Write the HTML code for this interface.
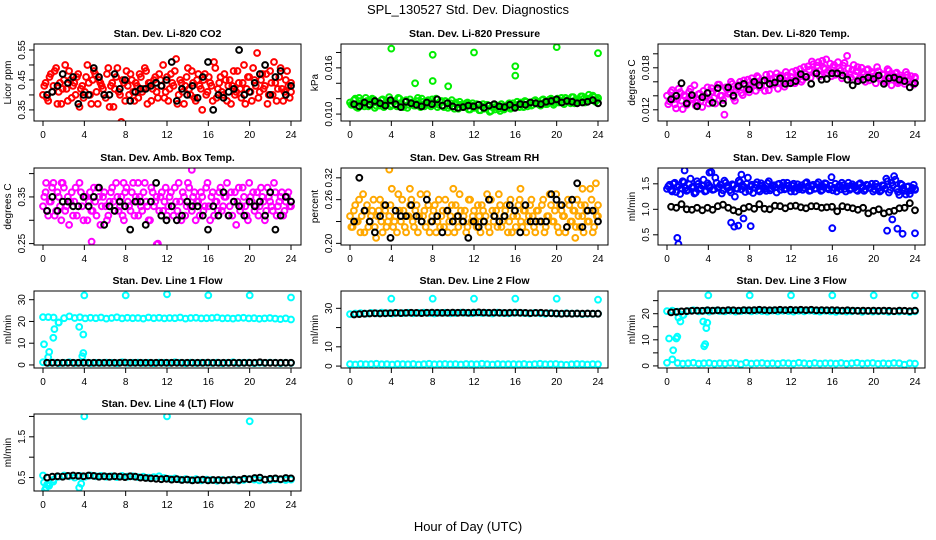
<!DOCTYPE html>
<html><head><meta charset="utf-8"><style>
body{margin:0;background:#fff;}
svg{display:block;font-family:"Liberation Sans",Arial,sans-serif;}
</style></head><body>
<svg id="chart" width="936" height="540">
<rect width="936" height="540" fill="#fff"/>
<text x="468" y="14" text-anchor="middle" font-size="13">SPL_130527  Std. Dev. Diagnostics</text>
<text x="468" y="531" text-anchor="middle" font-size="13">Hour of Day (UTC)</text>
</svg>
<script>
const hourTicks=[0,4,8,12,16,20,24];
const co2Main=[0.40,0.44,0.38,0.47,0.43,0.49,0.41,0.37,0.45,0.42,0.48,0.39,0.44,0.46,0.36,0.43,0.41,0.50,0.40,0.45,0.47,0.37,0.44,0.42,0.39,0.49,0.43,0.36,0.46,0.41,0.31,0.44,0.48,0.40,0.45,0.38,0.43,0.47,0.41,0.49,0.37,0.44,0.42,0.46,0.39,0.45,0.50,0.41,0.38,0.47,0.43,0.52,0.40,0.44,0.37,0.46,0.42,0.48,0.39,0.45,0.43,0.35,0.47,0.41,0.44,0.38,0.49,0.42,0.46,0.40,0.45,0.43,0.37,0.48,0.41,0.44,0.39,0.50,0.42,0.46,0.38,0.45,0.54,0.41,0.47,0.43,0.37,0.48,0.40,0.44,0.42,0.49,0.38,0.45,0.43,0.41];
const co2Main2=[0.43,0.39,0.46,0.41,0.48,0.37,0.44,0.42,0.50,0.38,0.45,0.43,0.40,0.47,0.42,0.39,0.46,0.44,0.37,0.48,0.41,0.45,0.43,0.40,0.47,0.36,0.44,0.42,0.49,0.40,0.45,0.38,0.43,0.47,0.41,0.44,0.39,0.46,0.42,0.48,0.44,0.38,0.45,0.41,0.47,0.43,0.39,0.46,0.42,0.44,0.48,0.37,0.45,0.41,0.43,0.49,0.40,0.44,0.38,0.47,0.42,0.45,0.40,0.46,0.43,0.51,0.39,0.44,0.41,0.47,0.38,0.45,0.43,0.40,0.48,0.42,0.44,0.37,0.46,0.41,0.49,0.43,0.39,0.45,0.42,0.47,0.40,0.44,0.51,0.38,0.46,0.42,0.41,0.48,0.39,0.44];
const co2Black=[0.40,0.41,0.43,0.47,0.44,0.46,0.37,0.40,0.40,0.49,0.46,0.40,0.40,0.47,0.42,0.45,0.38,0.41,0.42,0.42,0.43,0.44,0.43,0.45,0.51,0.38,0.42,0.40,0.43,0.39,0.46,0.51,0.35,0.40,0.39,0.41,0.42,0.55,0.40,0.41,0.44,0.47,0.50,0.40,0.46,0.48,0.40,0.43];
const presMain=[0.0115,0.0112,0.0120,0.0108,0.0117,0.0113,0.0121,0.0110,0.0116,0.0119,0.0111,0.0114,0.0118,0.0109,0.0115,0.0122,0.0112,0.0117,0.0110,0.0120,0.0113,0.0116,0.0108,0.0119,0.0114,0.0111,0.0121,0.0109,0.0116,0.0113,0.0118,0.0110,0.0115,0.0120,0.0112,0.0117,0.0109,0.0114,0.0111,0.0118,0.0107,0.0113,0.0116,0.0110,0.0112,0.0115,0.0106,0.0114,0.0109,0.0112,0.0105,0.0113,0.0108,0.0111,0.0104,0.0112,0.0109,0.0107,0.0113,0.0106,0.0110,0.0114,0.0108,0.0111,0.0116,0.0109,0.0113,0.0117,0.0110,0.0115,0.0112,0.0118,0.0114,0.0111,0.0119,0.0113,0.0116,0.0120,0.0112,0.0117,0.0115,0.0121,0.0113,0.0118,0.0116,0.0122,0.0114,0.0119,0.0117,0.0123,0.0115,0.0120,0.0118,0.0124,0.0116,0.0121];
const presMain2=[0.0112,0.0118,0.0109,0.0121,0.0114,0.0110,0.0117,0.0113,0.0120,0.0108,0.0115,0.0111,0.0119,0.0113,0.0117,0.0110,0.0116,0.0112,0.0121,0.0114,0.0109,0.0118,0.0112,0.0115,0.0111,0.0117,0.0113,0.0120,0.0110,0.0116,0.0112,0.0119,0.0113,0.0109,0.0116,0.0111,0.0117,0.0108,0.0114,0.0110,0.0115,0.0107,0.0112,0.0109,0.0114,0.0106,0.0111,0.0108,0.0113,0.0105,0.0110,0.0107,0.0112,0.0103,0.0109,0.0106,0.0111,0.0104,0.0110,0.0108,0.0112,0.0107,0.0114,0.0110,0.0112,0.0115,0.0109,0.0116,0.0113,0.0111,0.0117,0.0114,0.0112,0.0118,0.0115,0.0113,0.0119,0.0116,0.0114,0.0120,0.0117,0.0115,0.0121,0.0118,0.0114,0.0122,0.0119,0.0116,0.0123,0.0120,0.0117,0.0125,0.0119,0.0122,0.0118,0.0120];
const presBlack=[0.0113,0.0110,0.0115,0.0112,0.0117,0.0114,0.0111,0.0118,0.0113,0.0109,0.0116,0.0114,0.0112,0.0110,0.0115,0.0113,0.0119,0.0111,0.0114,0.0110,0.0108,0.0109,0.0111,0.0110,0.0112,0.0108,0.0111,0.0113,0.0110,0.0109,0.0112,0.0108,0.0113,0.0112,0.0115,0.0114,0.0113,0.0116,0.0117,0.0119,0.0115,0.0117,0.0116,0.0114,0.0115,0.0116,0.0118,0.0114];
const presOutHours=[4,8,8,6.3,9.5,12,16,16,20,24];
const presOutVals=[0.0185,0.0177,0.0143,0.0140,0.0136,0.0180,0.0162,0.0150,0.0187,0.0179];
const tempMain=[0.0140,0.0132,0.0148,0.0128,0.0136,0.0145,0.0121,0.0139,0.0131,0.0150,0.0135,0.0126,0.0142,0.0133,0.0147,0.0138,0.0129,0.0151,0.0137,0.0144,0.0156,0.0140,0.0113,0.0149,0.0145,0.0157,0.0133,0.0152,0.0160,0.0141,0.0155,0.0163,0.0150,0.0158,0.0147,0.0166,0.0153,0.0161,0.0170,0.0148,0.0164,0.0157,0.0172,0.0159,0.0167,0.0153,0.0169,0.0162,0.0174,0.0158,0.0168,0.0178,0.0163,0.0171,0.0182,0.0166,0.0185,0.0175,0.0188,0.0170,0.0180,0.0192,0.0176,0.0168,0.0184,0.0173,0.0179,0.0165,0.0187,0.0197,0.0171,0.0177,0.0169,0.0181,0.0166,0.0174,0.0160,0.0178,0.0167,0.0172,0.0158,0.0175,0.0164,0.0170,0.0162,0.0176,0.0155,0.0168,0.0173,0.0160,0.0166,0.0157,0.0170,0.0163,0.0159,0.0167];
const tempMain2=[0.0128,0.0145,0.0135,0.0122,0.0150,0.0133,0.0141,0.0127,0.0146,0.0137,0.0155,0.0130,0.0143,0.0124,0.0139,0.0152,0.0134,0.0146,0.0129,0.0156,0.0140,0.0134,0.0152,0.0143,0.0160,0.0137,0.0149,0.0155,0.0144,0.0162,0.0150,0.0145,0.0165,0.0155,0.0168,0.0152,0.0160,0.0147,0.0163,0.0171,0.0156,0.0166,0.0150,0.0169,0.0160,0.0174,0.0158,0.0167,0.0162,0.0176,0.0170,0.0160,0.0181,0.0167,0.0177,0.0189,0.0172,0.0183,0.0168,0.0190,0.0178,0.0173,0.0186,0.0181,0.0170,0.0188,0.0176,0.0183,0.0171,0.0179,0.0166,0.0184,0.0175,0.0164,0.0180,0.0171,0.0177,0.0162,0.0174,0.0168,0.0181,0.0165,0.0171,0.0160,0.0178,0.0167,0.0163,0.0172,0.0158,0.0169,0.0164,0.0174,0.0161,0.0168,0.0156,0.0165];
const tempBlack=[0.0135,0.0140,0.0158,0.0129,0.0141,0.0125,0.0138,0.0144,0.0130,0.0151,0.0129,0.0152,0.0140,0.0154,0.0157,0.0149,0.0160,0.0155,0.0162,0.0157,0.0159,0.0165,0.0157,0.0158,0.0161,0.0171,0.0167,0.0157,0.0172,0.0163,0.0164,0.0172,0.0172,0.0169,0.0163,0.0155,0.0161,0.0163,0.0166,0.0164,0.0169,0.0157,0.0165,0.0166,0.0163,0.0161,0.0152,0.0158];
const boxMain=[0.33,0.36,0.31,0.34,0.38,0.32,0.35,0.30,0.37,0.33,0.29,0.36,0.34,0.31,0.38,0.33,0.35,0.30,0.36,0.32,0.34,0.37,0.29,0.35,0.33,0.31,0.36,0.34,0.38,0.32,0.35,0.30,0.37,0.33,0.36,0.31,0.34,0.35,0.32,0.38,0.33,0.30,0.36,0.34,0.25,0.35,0.32,0.37,0.33,0.36,0.31,0.34,0.38,0.30,0.35,0.33,0.37,0.32,0.36,0.34,0.31,0.35,0.33,0.38,0.30,0.36,0.34,0.32,0.37,0.33,0.35,0.31,0.36,0.34,0.29,0.37,0.33,0.35,0.31,0.38,0.34,0.32,0.36,0.33,0.35,0.30,0.37,0.34,0.32,0.36,0.33,0.35,0.31,0.34,0.36,0.33];
const boxMain2=[0.35,0.32,0.34,0.37,0.31,0.36,0.33,0.38,0.32,0.35,0.34,0.31,0.37,0.33,0.36,0.30,0.35,0.34,0.32,0.37,0.31,0.35,0.33,0.36,0.30,0.34,0.37,0.32,0.35,0.33,0.31,0.36,0.34,0.32,0.38,0.35,0.31,0.33,0.36,0.34,0.30,0.37,0.33,0.35,0.32,0.36,0.34,0.31,0.35,0.33,0.37,0.32,0.34,0.36,0.31,0.38,0.33,0.35,0.30,0.34,0.36,0.32,0.37,0.33,0.35,0.31,0.34,0.36,0.32,0.35,0.38,0.33,0.31,0.36,0.34,0.32,0.37,0.33,0.30,0.35,0.36,0.33,0.31,0.37,0.34,0.32,0.35,0.33,0.38,0.31,0.34,0.36,0.32,0.35,0.33,0.34];
const boxBlack=[0.32,0.35,0.32,0.34,0.34,0.33,0.33,0.35,0.33,0.35,0.37,0.29,0.33,0.32,0.34,0.33,0.28,0.34,0.34,0.29,0.34,0.38,0.31,0.30,0.33,0.30,0.31,0.34,0.33,0.33,0.31,0.28,0.33,0.31,0.36,0.31,0.34,0.33,0.31,0.34,0.33,0.34,0.31,0.36,0.28,0.31,0.35,0.34];
const boxOutHours=[4.7,11,14.4,7.8,9.2,0.3,1.8];
const boxOutVals=[0.254,0.248,0.408,0.38,0.38,0.38,0.38];
const rhMain=[0.25,0.23,0.27,0.24,0.22,0.29,0.26,0.23,0.25,0.28,0.21,0.26,0.24,0.27,0.23,0.25,0.30,0.24,0.22,0.26,0.28,0.23,0.25,0.27,0.24,0.26,0.22,0.29,0.25,0.23,0.27,0.24,0.26,0.22,0.28,0.25,0.23,0.26,0.24,0.27,0.22,0.25,0.29,0.24,0.26,0.23,0.28,0.25,0.24,0.27,0.22,0.26,0.25,0.23,0.28,0.24,0.26,0.29,0.23,0.25,0.27,0.24,0.22,0.26,0.25,0.28,0.23,0.26,0.24,0.27,0.25,0.22,0.26,0.24,0.28,0.23,0.25,0.27,0.24,0.29,0.22,0.26,0.25,0.23,0.27,0.24,0.26,0.28,0.23,0.25,0.27,0.24,0.30,0.22,0.26,0.25];
const rhMain2=[0.23,0.26,0.24,0.28,0.25,0.22,0.27,0.24,0.26,0.23,0.25,0.28,0.22,0.26,0.24,0.27,0.23,0.25,0.29,0.24,0.26,0.22,0.25,0.28,0.23,0.27,0.25,0.24,0.26,0.29,0.22,0.25,0.27,0.24,0.23,0.26,0.28,0.22,0.25,0.24,0.27,0.23,0.26,0.25,0.22,0.28,0.24,0.26,0.23,0.25,0.27,0.24,0.29,0.22,0.26,0.25,0.23,0.27,0.24,0.26,0.22,0.28,0.25,0.23,0.27,0.24,0.26,0.22,0.25,0.28,0.23,0.26,0.24,0.27,0.22,0.25,0.29,0.24,0.26,0.23,0.27,0.25,0.22,0.28,0.24,0.26,0.23,0.25,0.27,0.22,0.26,0.24,0.28,0.23,0.25,0.27];
const rhBlack=[0.24,0.32,0.26,0.24,0.22,0.25,0.27,0.21,0.26,0.25,0.25,0.27,0.25,0.24,0.28,0.24,0.25,0.22,0.26,0.24,0.25,0.24,0.21,0.24,0.23,0.24,0.28,0.25,0.24,0.25,0.27,0.26,0.22,0.27,0.24,0.24,0.24,0.24,0.29,0.28,0.27,0.23,0.28,0.31,0.23,0.26,0.26,0.24];
const rhOutHours=[3.8,5.8,10,16.5,21.8,22.5,23.8];
const rhOutVals=[0.335,0.30,0.30,0.30,0.21,0.30,0.31];
const flowMain=[1.40,1.48,1.35,1.52,1.44,1.30,1.55,1.42,1.38,1.60,1.45,1.33,1.50,1.41,1.58,1.36,1.47,1.73,1.39,1.52,1.44,1.31,1.56,1.43,1.37,1.49,1.25,1.40,1.53,1.46,1.34,1.62,1.45,1.32,1.48,1.38,1.51,1.43,1.36,1.55,1.41,1.47,1.33,1.50,1.44,1.39,1.52,1.42,1.46,1.35,1.49,1.43,1.38,1.51,1.45,1.37,1.48,1.41,1.53,1.36,1.44,1.50,1.39,1.63,1.42,1.35,1.47,1.52,1.40,1.45,1.38,1.49,1.43,1.36,1.51,1.44,1.39,1.47,1.42,1.35,1.50,1.41,1.37,1.46,1.60,1.33,1.52,1.65,1.40,1.28,1.48,1.36,1.44,1.30,1.42,1.38];
const flowMain2=[1.45,1.38,1.50,1.34,1.47,1.41,1.53,1.36,1.49,1.43,1.31,1.55,1.40,1.46,1.35,1.51,1.44,1.38,1.62,1.42,1.48,1.37,1.52,1.45,1.33,1.47,1.41,1.56,1.39,1.44,1.50,1.36,1.48,1.42,1.53,1.35,1.46,1.40,1.51,1.37,1.45,1.43,1.49,1.38,1.52,1.41,1.46,1.35,1.50,1.43,1.39,1.47,1.42,1.53,1.36,1.45,1.40,1.49,1.44,1.38,1.51,1.42,1.46,1.37,1.50,1.43,1.39,1.47,1.35,1.52,1.41,1.45,1.38,1.49,1.43,1.36,1.48,1.42,1.50,1.39,1.44,1.35,1.47,1.41,1.55,1.38,1.46,1.58,1.34,1.50,1.42,1.29,1.45,1.37,1.48,1.40];
const flowBlack=[1.05,1.03,1.10,1.00,0.99,1.03,0.98,1.03,0.99,1.06,1.09,1.03,0.98,0.95,1.02,1.05,1.01,1.10,1.01,1.00,1.07,1.06,1.02,1.06,1.07,1.04,1.02,1.06,1.06,1.03,1.04,1.05,0.96,1.06,1.04,1.02,0.99,1.03,0.92,0.97,1.00,0.92,0.95,0.97,1.02,1.03,1.12,0.98];
const flowOutHours=[1,1.1,6.2,6.5,6.9,7.4,8.1,16,21.3,21.8,22.3,22.8,24,1.7,4.1,7.2];
const flowOutVals=[0.44,0.32,0.74,0.66,0.68,0.82,0.67,0.63,0.58,0.80,0.62,0.52,0.53,1.76,1.72,1.68];
const l1High=[22.0,22.0,21.8,19.5,21.5,22.3,21.6,21.9,21.4,21.7,21.5,21.8,21.3,21.6,21.9,21.4,21.7,21.5,21.6,21.3,21.8,21.5,21.7,21.4,21.6,21.5,21.8,21.3,21.6,21.7,21.4,21.5,21.6,21.8,21.4,21.5,21.3,21.6,21.7,21.4,21.5,21.2,21.4,21.6,21.3,21.1,21.4,20.9];
const l1Low=[1.2,0.9,1.1,0.8,1.0,1.2,0.9,1.0,1.1,0.8,1.0,0.9,1.1,1.0,0.8,1.2,0.9,1.0,1.1,0.9,1.0,0.8,1.1,1.0,0.9,1.2,1.0,0.8,1.1,0.9,1.0,1.0,0.9,1.1,0.8,1.0,1.2,0.9,1.0,1.1,0.8,1.0,0.9,1.1,1.0,0.8,1.0,0.9];
const l1Black=[1.0,1.0,1.0,1.0,1.0,1.0,1.0,1.0,1.0,1.0,1.0,1.0,1.0,1.0,1.0,1.1,1.0,1.0,1.0,1.0,1.0,1.0,1.0,1.0,1.0,1.0,1.0,1.0,1.0,1.0,1.0,1.1,1.0,1.0,1.0,1.0,1.0,1.0,1.0,1.0,1.0,1.2,1.0,1.0,1.0,1.0,1.0,1.0];
const l1OutHours=[0.1,0.5,0.6,1.0,1.1,1.5,3.5,3.8,3.9,3.9,4,8,12,16,20,24];
const l1OutVals=[9.5,3.5,6.0,12.5,16.5,19.5,17.5,4.0,5.5,14.0,32,32,32.5,32,32,31];
const l2High=[27.0,27.3,27.5,27.2,27.6,27.4,27.8,27.5,27.3,27.6,27.5,27.7,27.4,27.6,27.8,27.5,27.3,27.6,27.7,27.4,27.5,27.8,27.6,27.4,27.7,27.5,27.6,27.3,27.8,27.5,27.4,27.6,27.7,27.5,27.3,27.6,27.4,27.2,27.5,27.3,27.1,27.4,27.2,27.3,27.0,27.2,27.1,27.2];
const l2Low=[1.0,0.8,1.1,0.9,1.0,1.2,0.9,1.0,0.8,1.1,1.0,0.9,1.1,0.8,1.0,1.2,0.9,1.0,1.1,0.9,1.0,0.8,1.1,1.0,0.9,1.2,1.0,0.8,1.1,0.9,1.0,1.0,0.9,1.1,0.8,1.0,1.2,0.9,1.0,1.1,0.8,0.6,0.9,1.1,1.0,0.8,1.0,0.9];
const l2Black=[26.8,27.0,27.2,27.3,27.4,27.3,27.4,27.5,27.6,27.5,27.6,27.7,27.6,27.5,27.7,27.8,27.7,27.6,27.7,27.8,27.7,27.8,27.7,27.8,27.9,27.8,27.7,27.8,27.7,27.6,27.7,27.8,27.7,27.6,27.5,27.6,27.7,27.5,27.4,27.3,27.2,27.3,27.2,27.3,27.2,27.3,27.2,27.2];
const l2OutHours=[4,8,12,16,20,24];
const l2OutVals=[35,35,35,35,35,34.5];
const l3High=[21.0,21.2,20.8,19.5,21.0,21.3,20.9,21.1,20.8,21.2,21.0,20.9,21.1,20.8,21.0,21.2,20.9,21.1,21.0,20.8,21.2,20.9,21.1,21.0,20.8,21.1,20.9,21.2,21.0,20.8,21.1,20.9,20.7,21.0,20.8,20.9,21.1,20.7,21.0,20.8,20.9,21.0,20.7,20.9,20.8,21.0,20.6,20.9];
const l3Low=[1.2,2.5,1.1,0.9,1.0,1.2,0.9,1.0,1.1,0.8,1.0,0.9,1.1,1.0,0.6,1.2,0.9,1.0,1.1,0.9,1.0,0.8,1.1,1.0,0.9,1.2,1.0,0.8,1.1,0.9,1.0,1.0,0.9,1.1,0.8,1.0,1.2,0.9,1.0,1.1,0.8,1.0,0.9,1.1,1.0,0.5,1.0,0.9];
const l3Black=[20.5,20.7,20.9,21.0,21.1,21.2,21.1,21.3,21.2,21.3,21.2,21.4,21.3,21.2,21.4,21.3,21.4,21.5,21.4,21.3,21.4,21.5,21.4,21.5,21.4,21.5,21.4,21.5,21.3,21.4,21.3,21.4,21.3,21.2,21.3,21.2,21.1,21.2,21.1,21.2,21.1,21.2,21.1,21.0,21.2,21.1,21.0,21.2];
const l3OutHours=[0.2,0.6,0.9,1.0,1.1,1.3,1.6,3.5,3.6,3.7,3.8,3.9,4,8,12,16,20,24];
const l3OutVals=[10.5,6.0,10.5,11.2,18.5,17.0,19.5,17.0,7.5,8.3,14.5,16.5,27,27,27,27,27,27];
const l4Main=[0.55,0.30,0.45,0.52,0.55,0.53,0.50,0.54,0.52,0.55,0.53,0.54,0.52,0.53,0.51,0.54,0.52,0.53,0.51,0.52,0.50,0.51,0.53,0.49,0.47,0.48,0.45,0.46,0.44,0.46,0.43,0.45,0.44,0.42,0.44,0.43,0.45,0.42,0.44,0.46,0.45,0.43,0.45,0.44,0.46,0.45,0.44,0.45];
const l4Black=[0.50,0.52,0.53,0.52,0.54,0.55,0.54,0.53,0.55,0.54,0.52,0.53,0.52,0.53,0.52,0.51,0.53,0.52,0.50,0.49,0.48,0.47,0.46,0.47,0.45,0.46,0.44,0.45,0.43,0.44,0.45,0.43,0.44,0.44,0.43,0.44,0.45,0.44,0.47,0.46,0.49,0.50,0.45,0.47,0.48,0.46,0.49,0.48];
const l4OutHours=[0.1,0.2,0.3,0.4,0.6,1.0,3.5,3.7,4,12,20];
const l4OutVals=[0.38,0.20,0.25,0.33,0.30,0.40,0.25,0.35,2.0,2.0,1.88];

const NS='http://www.w3.org/2000/svg';
const svg=document.getElementById('chart');
function mk(tag,attrs,parent){const e=document.createElementNS(NS,tag);for(const k in attrs)e.setAttribute(k,attrs[k]);(parent||svg).appendChild(e);return e;}
const colX=[34,341,658], rowY=[44,168,291,414], W=267, H=77;
const panels=[
 {t:'Stan. Dev. Li-820 CO2',yl:'Licor ppm',c:0,r:0,ymin:0.313,ymax:0.57,ticks:[0.35,0.40,0.45,0.50,0.55],labs:{'0.35':'0.35','0.45':'0.45','0.55':'0.55'},col:'#ff0000',series:[co2Main,co2Main2],black:co2Black,oh:[],ov:[]},
 {t:'Stan. Dev. Li-820 Pressure',yl:'kPa',c:1,r:0,ymin:0.0091,ymax:0.0191,ticks:[0.010,0.012,0.014,0.016,0.018],labs:{'0.01':'0.010','0.016':'0.016'},col:'#00ee00',series:[presMain,presMain2],black:presBlack,oh:presOutHours,ov:presOutVals},
 {t:'Stan. Dev. Li-820 Temp.',yl:'degrees C',c:2,r:0,ymin:0.0104,ymax:0.0214,ticks:[0.012,0.014,0.016,0.018,0.020],labs:{'0.012':'0.012','0.018':'0.018'},col:'#ff00ff',series:[tempMain,tempMain2],black:tempBlack,oh:[],ov:[]},
 {t:'Stan. Dev. Amb. Box Temp.',yl:'degrees C',c:0,r:1,ymin:0.247,ymax:0.412,ticks:[0.25,0.30,0.35,0.40],labs:{'0.25':'0.25','0.35':'0.35'},col:'#ff00ff',series:[boxMain,boxMain2],black:boxBlack,oh:boxOutHours,ov:boxOutVals},
 {t:'Stan. Dev. Gas Stream RH',yl:'percent',c:1,r:1,ymin:0.197,ymax:0.338,ticks:[0.20,0.24,0.28,0.32],labs:{'0.2':'0.20','0.28':'0.26','0.32':'0.32'},col:'#ffa800',series:[rhMain,rhMain2],black:rhBlack,oh:rhOutHours,ov:rhOutVals},
 {t:'Stan. Dev. Sample Flow',yl:'ml/min',c:2,r:1,ymin:0.30,ymax:1.81,ticks:[0.5,1.0,1.5],labs:{'0.5':'0.5','1':'1.0','1.5':'1.5'},col:'#0000ff',series:[flowMain,flowMain2],black:flowBlack,oh:flowOutHours,ov:flowOutVals},
 {t:'Stan. Dev. Line 1 Flow',yl:'ml/min',c:0,r:2,ymin:-1.4,ymax:34,ticks:[0,10,20,30],labs:{'0':'0','10':'10','20':'20','30':'30'},col:'#00ffff',series:[l1High,l1Low],black:l1Black,oh:l1OutHours,ov:l1OutVals},
 {t:'Stan. Dev. Line 2 Flow',yl:'ml/min',c:1,r:2,ymin:-1,ymax:39,ticks:[0,10,20,30],labs:{'0':'0','10':'10','30':'30'},col:'#00ffff',series:[l2High,l2Low],black:l2Black,oh:l2OutHours,ov:l2OutVals},
 {t:'Stan. Dev. Line 3 Flow',yl:'ml/min',c:2,r:2,ymin:-0.8,ymax:28.7,ticks:[0,5,10,15,20,25],labs:{'0':'0','10':'10','20':'20'},col:'#00ffff',series:[l3High,l3Low],black:l3Black,oh:l3OutHours,ov:l3OutVals},
 {t:'Stan. Dev. Line 4 (LT) Flow',yl:'ml/min',c:0,r:3,ymin:0.17,ymax:2.06,ticks:[0.5,1.0,1.5,2.0],labs:{'0.5':'0.5','1.5':'1.5'},col:'#00ffff',series:[l4Main],black:l4Black,oh:l4OutHours,ov:l4OutVals}
];
panels.forEach((p,pi)=>{
 const L=colX[p.c], T=rowY[p.r];
 const g=mk('g',{});
 
 
 const xs=h=>L+9+h*(W-19)/24;
 const ys=v=>T+H-(v-p.ymin)/(p.ymax-p.ymin)*H;
 const clip='clip'+pi;
 const cp=mk('clipPath',{id:clip},g);mk('rect',{x:L,y:T,width:W,height:H},cp);
 const pts=mk('g',{'clip-path':'url(#'+clip+')'},g);
 
 
 const dot=(h,v,c)=>{const e=mk('circle',{cx:xs(h).toFixed(1),cy:ys(v).toFixed(1),r:2.9,fill:'none',stroke:c,'stroke-width':2},pts);
  
  };
 p.series.forEach((s,k)=>{const step=24/(s.length-1);const off=(p.series.length>1&&k===1&&s.length>=96)?step/2:0;
  s.forEach((v,i)=>dot(Math.min(24,i*step+off),v,p.col));});
 p.oh.forEach((h,i)=>dot(h,p.ov[i],p.col));
 p.black.forEach((v,i)=>dot(0.4+i*23.6/(p.black.length-1),v,'#000'));
 const box=mk('rect',{x:L,y:T,width:W,height:H,fill:'none',stroke:'#000','stroke-width':1},g);
 
 
 const tt=mk('text',{x:L+W/2,y:T-7,'text-anchor':'middle','font-size':10.5,'font-weight':'bold'},g);tt.textContent=p.t;
 
 
 mk('line',{x1:xs(0),x2:xs(24),y1:T+H,y2:T+H,stroke:'#000'},g);
 hourTicks.forEach(h=>{mk('line',{x1:xs(h),x2:xs(h),y1:T+H,y2:T+H+5,stroke:'#000'},g);
  const tl=mk('text',{x:xs(h),y:T+H+17,'text-anchor':'middle','font-size':10},g);tl.textContent=h;
  
  });
 const tk=p.ticks;
 mk('line',{x1:L,x2:L,y1:ys(tk[0]),y2:ys(tk[tk.length-1]),stroke:'#000'},g);
 tk.forEach(v=>{const y=ys(v);mk('line',{x1:L-5,x2:L,y1:y,y2:y,stroke:'#000'},g);
  const key=String(+v.toFixed(4));
  if(p.labs[key]!==undefined){const yl=mk('text',{x:0,y:0,'text-anchor':'middle','font-size':10,transform:'translate('+(L-9)+','+y.toFixed(1)+') rotate(-90)'},g);yl.textContent=p.labs[key];
   
   }});
 const at=mk('text',{x:0,y:0,'text-anchor':'middle','font-size':10,transform:'translate('+(L-23)+','+(T+H/2)+') rotate(-90)'},g);at.textContent=p.yl;
 
 
});
</script>
</body></html>
